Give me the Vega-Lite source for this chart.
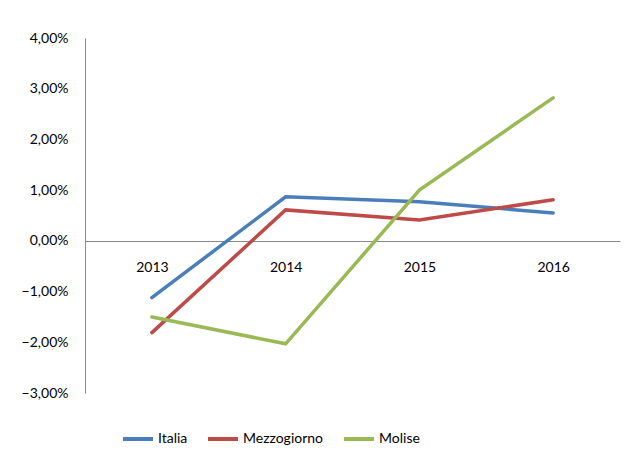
{
  "$schema": "https://vega.github.io/schema/vega-lite/v6.json",
  "width": 535,
  "height": 355,
  "autosize": "none",
  "padding": {"left": 85, "top": 38, "right": 13, "bottom": 66},
  "background": "white",
  "config": {
    "locale": {"number": {"decimal": ",", "thousands": ".", "grouping": [3], "currency": ["€", ""]}},
    "view": {"stroke": null},
    "font": "Lato"
  },
  "data": {
    "values": [
      {"year": "2013", "serie": "Italia", "v": -0.0112},
      {"year": "2014", "serie": "Italia", "v": 0.0087},
      {"year": "2015", "serie": "Italia", "v": 0.0077},
      {"year": "2016", "serie": "Italia", "v": 0.0055},
      {"year": "2013", "serie": "Mezzogiorno", "v": -0.0181},
      {"year": "2014", "serie": "Mezzogiorno", "v": 0.0061},
      {"year": "2015", "serie": "Mezzogiorno", "v": 0.0041},
      {"year": "2016", "serie": "Mezzogiorno", "v": 0.0081},
      {"year": "2013", "serie": "Molise", "v": -0.015},
      {"year": "2014", "serie": "Molise", "v": -0.0203},
      {"year": "2015", "serie": "Molise", "v": 0.0100},
      {"year": "2016", "serie": "Molise", "v": 0.0282}
    ]
  },
  "mark": {"type": "line", "strokeWidth": 3.5, "strokeCap": "round"},
  "encoding": {
    "x": {
      "field": "year", "type": "ordinal", "title": null,
      "scale": {"type": "point", "padding": 0.5},
      "axis": {"orient": "bottom", "offset": -152, "labelAngle": 0, "ticks": false, "domainColor": "#888888", "domainWidth": 1, "labelFontSize": 14, "labelColor": "#000000", "labelPadding": 19, "grid": false}
    },
    "y": {
      "field": "v", "type": "quantitative", "title": null,
      "scale": {"domain": [-0.03, 0.04], "nice": false, "zero": false},
      "axis": {"values": [-0.03, -0.02, -0.01, 0, 0.01, 0.02, 0.03, 0.04], "format": ".2%", "ticks": false, "grid": false, "domainColor": "#888888", "domainWidth": 1, "labelFontSize": 14, "labelColor": "#000000", "labelPadding": 17}
    },
    "color": {
      "field": "serie", "type": "nominal", "title": null,
      "scale": {"domain": ["Italia", "Mezzogiorno", "Molise"], "range": ["#4A7EBB", "#BE4B48", "#98B954"]},
      "legend": {"orient": "none", "legendX": 36, "legendY": 384, "direction": "horizontal", "symbolType": "stroke", "symbolSize": 900, "symbolStrokeWidth": 4, "labelFontSize": 14, "labelColor": "#000000", "columnPadding": 12, "labelOffset": 3}
    }
  }
}
